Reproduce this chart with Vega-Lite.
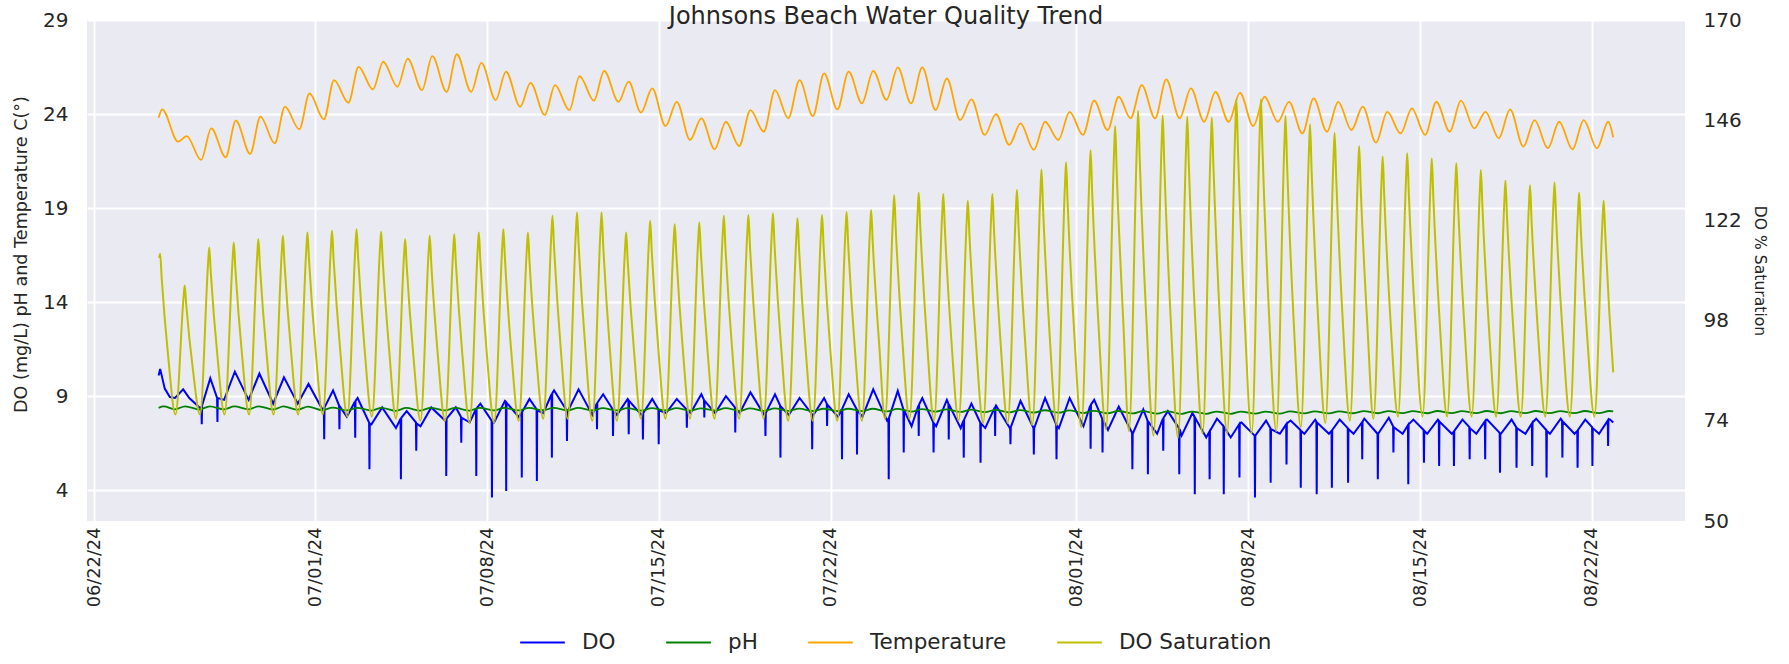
{
"$schema": "https://vega.github.io/schema/vega-lite/v6.json",
"width": 1598,
"height": 501,
"autosize": {"type": "none"},
"padding": {"left": 87, "top": 20, "right": 104, "bottom": 143},
"background": "white",
"title": {"text": "Johnsons Beach Water Quality Trend", "fontSize": 24, "font": "DejaVu Sans", "fontWeight": "normal", "color": "#262626", "anchor": "middle", "frame": "group", "offset": -19},
"config": {
"view": {"fill": "#EAEAF2", "stroke": null},
"font": "DejaVu Sans",
"axis": {"domain": false, "ticks": false, "gridColor": "white", "gridWidth": 1.8, "gridOpacity": 1, "labelFont": "DejaVu Sans", "labelFontSize": 20, "labelColor": "#262626", "titleFont": "DejaVu Sans", "titleFontWeight": "normal", "titleColor": "#262626", "titleFontSize": 17.6, "labelOverlap": false},
"legend": {"orient": "none", "legendX": 432, "legendY": 599, "direction": "horizontal", "title": null, "symbolType": "stroke", "symbolStrokeWidth": 2, "symbolSize": 2000, "labelFont": "DejaVu Sans", "labelFontSize": 21.5, "labelColor": "#262626", "labelOffset": 16, "columnPadding": 46, "padding": 0}
},
"datasets": {
"do": [
{"t":"2024-06-24T15:00","v":10.1},{"t":"2024-06-24T16:30","v":10.45},{"t":"2024-06-24T21:00","v":9.4},
{"t":"2024-06-25T02:00","v":8.95},{"t":"2024-06-25T07:00","v":8.9},{"t":"2024-06-25T15:00","v":9.36},{"t":"2024-06-25T21:00","v":8.9},
{"t":"2024-06-26T07:00","v":8.4},{"t":"2024-06-26T08:50","v":8.4},{"t":"2024-06-26T09:10","v":7.5},{"t":"2024-06-26T09:30","v":8.5},{"t":"2024-06-26T17:30","v":9.95},
{"t":"2024-06-27T00:10","v":8.9},{"t":"2024-06-27T00:30","v":7.62},{"t":"2024-06-27T00:50","v":8.9},{"t":"2024-06-27T07:00","v":8.8},{"t":"2024-06-27T17:30","v":10.3},
{"t":"2024-06-28T07:00","v":8.8},{"t":"2024-06-28T17:30","v":10.2},
{"t":"2024-06-29T07:00","v":8.6},{"t":"2024-06-29T17:30","v":10.0},
{"t":"2024-06-30T07:00","v":8.6},{"t":"2024-06-30T17:30","v":9.65},
{"t":"2024-07-01T07:00","v":8.3},{"t":"2024-07-01T08:30","v":8.35},{"t":"2024-07-01T08:50","v":6.71},{"t":"2024-07-01T09:10","v":8.4},{"t":"2024-07-01T17:30","v":9.3},{"t":"2024-07-01T23:25","v":8.5},{"t":"2024-07-01T23:45","v":7.24},
{"t":"2024-07-02T00:05","v":8.45},{"t":"2024-07-02T07:00","v":7.9},{"t":"2024-07-02T14:50","v":8.7},{"t":"2024-07-02T15:10","v":6.79},{"t":"2024-07-02T15:30","v":8.75},{"t":"2024-07-02T17:30","v":8.9},
{"t":"2024-07-03T04:45","v":7.6},{"t":"2024-07-03T05:05","v":5.11},{"t":"2024-07-03T05:25","v":7.55},{"t":"2024-07-03T07:00","v":7.5},{"t":"2024-07-03T17:30","v":8.4},
{"t":"2024-07-04T07:00","v":7.3},{"t":"2024-07-04T11:30","v":7.8},{"t":"2024-07-04T11:50","v":4.58},{"t":"2024-07-04T12:10","v":7.85},{"t":"2024-07-04T17:30","v":8.2},
{"t":"2024-07-05T02:30","v":7.6},{"t":"2024-07-05T02:50","v":6.09},{"t":"2024-07-05T03:10","v":7.55},{"t":"2024-07-05T07:00","v":7.4},{"t":"2024-07-05T17:30","v":8.4},
{"t":"2024-07-06T07:00","v":7.7},{"t":"2024-07-06T07:50","v":7.75},{"t":"2024-07-06T08:10","v":4.75},{"t":"2024-07-06T08:30","v":7.8},{"t":"2024-07-06T17:30","v":8.4},{"t":"2024-07-06T22:30","v":7.9},{"t":"2024-07-06T22:50","v":6.52},{"t":"2024-07-06T23:10","v":7.85},
{"t":"2024-07-07T07:00","v":7.6},{"t":"2024-07-07T13:10","v":8.3},{"t":"2024-07-07T13:30","v":4.75},{"t":"2024-07-07T13:50","v":8.35},{"t":"2024-07-07T17:30","v":8.6},
{"t":"2024-07-08T04:30","v":7.7},{"t":"2024-07-08T04:50","v":3.61},{"t":"2024-07-08T05:10","v":7.65},{"t":"2024-07-08T07:00","v":7.6},{"t":"2024-07-08T17:30","v":8.75},{"t":"2024-07-08T18:25","v":8.7},{"t":"2024-07-08T18:45","v":3.96},{"t":"2024-07-08T19:05","v":8.65},
{"t":"2024-07-09T07:00","v":7.9},{"t":"2024-07-09T09:40","v":8.1},{"t":"2024-07-09T10:00","v":4.67},{"t":"2024-07-09T10:20","v":8.15},{"t":"2024-07-09T17:30","v":8.85},
{"t":"2024-07-10T00:25","v":8.3},{"t":"2024-07-10T00:45","v":4.49},{"t":"2024-07-10T01:05","v":8.25},{"t":"2024-07-10T07:00","v":8.1},{"t":"2024-07-10T15:05","v":9.1},{"t":"2024-07-10T15:25","v":5.73},{"t":"2024-07-10T15:45","v":9.15},{"t":"2024-07-10T17:30","v":9.3},
{"t":"2024-07-11T05:50","v":8.25},{"t":"2024-07-11T06:10","v":6.61},{"t":"2024-07-11T06:30","v":8.2},{"t":"2024-07-11T07:00","v":8.2},{"t":"2024-07-11T17:30","v":9.36},
{"t":"2024-07-12T07:00","v":8.0},{"t":"2024-07-12T11:10","v":8.6},{"t":"2024-07-12T11:30","v":7.24},{"t":"2024-07-12T11:50","v":8.65},{"t":"2024-07-12T17:30","v":9.1},
{"t":"2024-07-13T02:50","v":8.3},{"t":"2024-07-13T03:10","v":6.88},{"t":"2024-07-13T03:30","v":8.25},{"t":"2024-07-13T07:00","v":8.0},{"t":"2024-07-13T17:30","v":8.85},{"t":"2024-07-13T18:10","v":8.8},{"t":"2024-07-13T18:30","v":6.97},{"t":"2024-07-13T18:50","v":8.75},
{"t":"2024-07-14T07:00","v":8.0},{"t":"2024-07-14T08:05","v":8.05},{"t":"2024-07-14T08:25","v":6.7},{"t":"2024-07-14T08:45","v":8.1},{"t":"2024-07-14T17:30","v":8.85},{"t":"2024-07-14T23:30","v":8.3},{"t":"2024-07-14T23:50","v":6.44},
{"t":"2024-07-15T00:10","v":8.25},{"t":"2024-07-15T07:00","v":8.1},{"t":"2024-07-15T17:30","v":8.85},
{"t":"2024-07-16T03:00","v":8.3},{"t":"2024-07-16T03:20","v":7.32},{"t":"2024-07-16T03:40","v":8.25},{"t":"2024-07-16T07:00","v":8.1},{"t":"2024-07-16T17:30","v":9.1},{"t":"2024-07-16T20:05","v":8.8},{"t":"2024-07-16T20:25","v":7.86},{"t":"2024-07-16T20:45","v":8.75},
{"t":"2024-07-17T07:00","v":8.1},{"t":"2024-07-17T17:30","v":9.0},
{"t":"2024-07-18T02:20","v":8.4},{"t":"2024-07-18T02:40","v":7.06},{"t":"2024-07-18T03:00","v":8.35},{"t":"2024-07-18T07:00","v":8.1},{"t":"2024-07-18T17:30","v":9.2},
{"t":"2024-07-19T07:00","v":8.0},{"t":"2024-07-19T07:50","v":8.05},{"t":"2024-07-19T08:10","v":6.88},{"t":"2024-07-19T08:30","v":8.1},{"t":"2024-07-19T17:30","v":9.1},{"t":"2024-07-19T22:30","v":8.5},{"t":"2024-07-19T22:50","v":5.73},{"t":"2024-07-19T23:10","v":8.45},
{"t":"2024-07-20T07:00","v":8.0},{"t":"2024-07-20T17:30","v":8.9},
{"t":"2024-07-21T05:30","v":8.05},{"t":"2024-07-21T05:50","v":6.17},{"t":"2024-07-21T06:10","v":8.0},{"t":"2024-07-21T07:00","v":8.0},{"t":"2024-07-21T17:30","v":8.9},{"t":"2024-07-21T20:05","v":8.6},{"t":"2024-07-21T20:25","v":7.41},{"t":"2024-07-21T20:45","v":8.55},
{"t":"2024-07-22T07:00","v":7.9},{"t":"2024-07-22T10:40","v":8.3},{"t":"2024-07-22T11:00","v":5.64},{"t":"2024-07-22T11:20","v":8.35},{"t":"2024-07-22T17:30","v":9.1},
{"t":"2024-07-23T01:20","v":8.3},{"t":"2024-07-23T01:40","v":5.9},{"t":"2024-07-23T02:00","v":8.25},{"t":"2024-07-23T07:00","v":7.9},{"t":"2024-07-23T17:30","v":9.36},
{"t":"2024-07-24T07:00","v":7.7},{"t":"2024-07-24T08:20","v":7.8},{"t":"2024-07-24T08:40","v":4.58},{"t":"2024-07-24T09:00","v":7.85},{"t":"2024-07-24T17:30","v":9.28},{"t":"2024-07-24T23:00","v":8.3},{"t":"2024-07-24T23:20","v":6.0},{"t":"2024-07-24T23:40","v":8.25},
{"t":"2024-07-25T07:00","v":7.4},{"t":"2024-07-25T13:40","v":8.5},{"t":"2024-07-25T14:00","v":6.88},{"t":"2024-07-25T14:20","v":8.55},{"t":"2024-07-25T17:30","v":8.9},
{"t":"2024-07-26T04:10","v":7.6},{"t":"2024-07-26T04:30","v":6.0},{"t":"2024-07-26T04:50","v":7.55},{"t":"2024-07-26T07:00","v":7.4},{"t":"2024-07-26T17:30","v":8.8},{"t":"2024-07-26T19:00","v":8.6},{"t":"2024-07-26T19:20","v":6.7},{"t":"2024-07-26T19:40","v":8.55},
{"t":"2024-07-27T07:00","v":7.3},{"t":"2024-07-27T09:40","v":7.7},{"t":"2024-07-27T10:00","v":5.73},{"t":"2024-07-27T10:20","v":7.75},{"t":"2024-07-27T17:30","v":8.6},
{"t":"2024-07-28T02:05","v":7.6},{"t":"2024-07-28T02:25","v":5.46},{"t":"2024-07-28T02:45","v":7.55},{"t":"2024-07-28T07:00","v":7.3},{"t":"2024-07-28T16:20","v":8.4},{"t":"2024-07-28T16:40","v":6.88},{"t":"2024-07-28T17:00","v":8.45},{"t":"2024-07-28T17:30","v":8.5},
{"t":"2024-07-29T07:00","v":7.3},{"t":"2024-07-29T07:20","v":7.3},{"t":"2024-07-29T07:40","v":6.44},{"t":"2024-07-29T08:00","v":7.35},{"t":"2024-07-29T17:30","v":8.75},
{"t":"2024-07-30T06:10","v":7.3},{"t":"2024-07-30T06:30","v":5.9},{"t":"2024-07-30T06:50","v":7.3},{"t":"2024-07-30T17:30","v":8.9},
{"t":"2024-07-31T04:20","v":7.5},{"t":"2024-07-31T04:40","v":5.64},{"t":"2024-07-31T05:00","v":7.45},{"t":"2024-07-31T07:00","v":7.3},{"t":"2024-07-31T17:30","v":8.9},
{"t":"2024-08-01T07:00","v":7.4},{"t":"2024-08-01T13:40","v":8.5},{"t":"2024-08-01T14:00","v":6.2},{"t":"2024-08-01T14:20","v":8.55},{"t":"2024-08-01T17:30","v":8.8},
{"t":"2024-08-02T01:20","v":7.8},{"t":"2024-08-02T01:40","v":6.0},{"t":"2024-08-02T02:00","v":7.75},{"t":"2024-08-02T07:00","v":7.2},{"t":"2024-08-02T17:30","v":8.45},
{"t":"2024-08-03T06:30","v":7.05},{"t":"2024-08-03T06:50","v":5.11},{"t":"2024-08-03T07:10","v":7.0},{"t":"2024-08-03T17:30","v":8.3},{"t":"2024-08-03T21:40","v":7.7},{"t":"2024-08-03T22:00","v":4.84},{"t":"2024-08-03T22:20","v":7.65},
{"t":"2024-08-04T07:00","v":7.0},{"t":"2024-08-04T12:40","v":7.8},{"t":"2024-08-04T13:00","v":6.1},{"t":"2024-08-04T13:20","v":7.85},{"t":"2024-08-04T17:30","v":8.2},
{"t":"2024-08-05T04:20","v":7.3},{"t":"2024-08-05T04:40","v":4.84},{"t":"2024-08-05T05:00","v":7.25},{"t":"2024-08-05T07:00","v":6.9},{"t":"2024-08-05T17:30","v":8.1},{"t":"2024-08-05T19:30","v":7.9},{"t":"2024-08-05T19:50","v":3.78},{"t":"2024-08-05T20:10","v":7.85},
{"t":"2024-08-06T07:00","v":6.8},{"t":"2024-08-06T10:00","v":7.1},{"t":"2024-08-06T10:20","v":4.58},{"t":"2024-08-06T10:40","v":7.15},{"t":"2024-08-06T17:30","v":7.8},{"t":"2024-08-06T23:50","v":7.4},
{"t":"2024-08-07T00:10","v":3.78},{"t":"2024-08-07T00:30","v":7.35},{"t":"2024-08-07T07:00","v":6.8},{"t":"2024-08-07T15:10","v":7.5},{"t":"2024-08-07T15:30","v":4.67},{"t":"2024-08-07T15:50","v":7.55},{"t":"2024-08-07T17:30","v":7.6},
{"t":"2024-08-08T06:20","v":6.9},{"t":"2024-08-08T06:40","v":3.61},{"t":"2024-08-08T07:00","v":6.9},{"t":"2024-08-08T17:30","v":7.7},{"t":"2024-08-08T21:40","v":7.3},{"t":"2024-08-08T22:00","v":4.4},{"t":"2024-08-08T22:20","v":7.25},
{"t":"2024-08-09T07:00","v":7.0},{"t":"2024-08-09T13:10","v":7.5},{"t":"2024-08-09T13:30","v":5.37},{"t":"2024-08-09T13:50","v":7.55},{"t":"2024-08-09T17:30","v":7.7},
{"t":"2024-08-10T03:05","v":7.2},{"t":"2024-08-10T03:25","v":4.13},{"t":"2024-08-10T03:45","v":7.15},{"t":"2024-08-10T07:00","v":7.0},{"t":"2024-08-10T17:30","v":7.75},{"t":"2024-08-10T18:40","v":7.65},{"t":"2024-08-10T19:00","v":3.78},{"t":"2024-08-10T19:20","v":7.6},
{"t":"2024-08-11T07:00","v":7.0},{"t":"2024-08-11T09:30","v":7.15},{"t":"2024-08-11T09:50","v":4.13},{"t":"2024-08-11T10:10","v":7.2},{"t":"2024-08-11T17:30","v":7.75},
{"t":"2024-08-12T01:20","v":7.3},{"t":"2024-08-12T01:40","v":4.4},{"t":"2024-08-12T02:00","v":7.25},{"t":"2024-08-12T07:00","v":7.0},{"t":"2024-08-12T15:10","v":7.6},{"t":"2024-08-12T15:30","v":5.64},{"t":"2024-08-12T15:50","v":7.65},{"t":"2024-08-12T17:30","v":7.8},
{"t":"2024-08-13T06:25","v":7.0},{"t":"2024-08-13T06:45","v":4.58},{"t":"2024-08-13T07:05","v":7.0},{"t":"2024-08-13T17:30","v":7.85},{"t":"2024-08-13T21:40","v":7.4},{"t":"2024-08-13T22:00","v":6.0},{"t":"2024-08-13T22:20","v":7.35},
{"t":"2024-08-14T07:00","v":7.0},{"t":"2024-08-14T12:10","v":7.45},{"t":"2024-08-14T12:30","v":4.31},{"t":"2024-08-14T12:50","v":7.5},{"t":"2024-08-14T17:30","v":7.75},
{"t":"2024-08-15T03:30","v":7.2},{"t":"2024-08-15T03:50","v":5.46},{"t":"2024-08-15T04:10","v":7.15},{"t":"2024-08-15T07:00","v":7.0},{"t":"2024-08-15T17:30","v":7.75},{"t":"2024-08-15T18:20","v":7.7},{"t":"2024-08-15T18:40","v":5.28},{"t":"2024-08-15T19:00","v":7.65},
{"t":"2024-08-16T07:00","v":7.0},{"t":"2024-08-16T08:50","v":7.1},{"t":"2024-08-16T09:10","v":5.28},{"t":"2024-08-16T09:30","v":7.15},{"t":"2024-08-16T17:30","v":7.75},
{"t":"2024-08-17T00:10","v":7.35},{"t":"2024-08-17T00:30","v":5.64},{"t":"2024-08-17T00:50","v":7.3},{"t":"2024-08-17T07:00","v":7.0},{"t":"2024-08-17T15:20","v":7.65},{"t":"2024-08-17T15:40","v":5.64},{"t":"2024-08-17T16:00","v":7.7},{"t":"2024-08-17T17:30","v":7.75},
{"t":"2024-08-18T05:50","v":7.05},{"t":"2024-08-18T06:10","v":4.93},{"t":"2024-08-18T06:30","v":7.0},{"t":"2024-08-18T07:00","v":7.0},{"t":"2024-08-18T17:30","v":7.75},{"t":"2024-08-18T22:00","v":7.35},{"t":"2024-08-18T22:20","v":5.19},{"t":"2024-08-18T22:40","v":7.3},
{"t":"2024-08-19T07:00","v":7.0},{"t":"2024-08-19T13:20","v":7.55},{"t":"2024-08-19T13:40","v":5.28},{"t":"2024-08-19T14:00","v":7.6},{"t":"2024-08-19T17:30","v":7.8},
{"t":"2024-08-20T03:20","v":7.2},{"t":"2024-08-20T03:40","v":4.67},{"t":"2024-08-20T04:00","v":7.15},{"t":"2024-08-20T07:00","v":7.0},{"t":"2024-08-20T17:30","v":7.8},{"t":"2024-08-20T18:50","v":7.7},{"t":"2024-08-20T19:10","v":5.73},{"t":"2024-08-20T19:30","v":7.65},
{"t":"2024-08-21T07:00","v":7.0},{"t":"2024-08-21T09:40","v":7.15},{"t":"2024-08-21T10:00","v":5.19},{"t":"2024-08-21T10:20","v":7.2},{"t":"2024-08-21T17:30","v":7.75},
{"t":"2024-08-22T00:10","v":7.35},{"t":"2024-08-22T00:30","v":5.28},{"t":"2024-08-22T00:50","v":7.3},{"t":"2024-08-22T07:00","v":7.0},{"t":"2024-08-22T15:30","v":7.7},{"t":"2024-08-22T15:50","v":6.35},{"t":"2024-08-22T16:10","v":7.75},{"t":"2024-08-22T17:30","v":7.77},{"t":"2024-08-22T20:50","v":7.6}
],
"ph": [
{"t":"2024-06-24T15:00","v":8.38},{"t":"2024-06-24T20:00","v":8.45},
{"t":"2024-06-25T07:00","v":8.30},{"t":"2024-06-25T17:00","v":8.46},
{"t":"2024-06-26T07:00","v":8.29},{"t":"2024-06-26T17:00","v":8.46},
{"t":"2024-06-27T07:00","v":8.30},{"t":"2024-06-27T17:00","v":8.45},
{"t":"2024-06-28T07:00","v":8.30},{"t":"2024-06-28T17:00","v":8.46},
{"t":"2024-06-29T07:00","v":8.29},{"t":"2024-06-29T17:00","v":8.45},
{"t":"2024-06-30T07:00","v":8.28},{"t":"2024-06-30T17:00","v":8.44},
{"t":"2024-07-01T07:00","v":8.25},{"t":"2024-07-01T17:00","v":8.39},
{"t":"2024-07-02T07:00","v":8.24},{"t":"2024-07-02T17:00","v":8.38},
{"t":"2024-07-03T07:00","v":8.23},{"t":"2024-07-03T17:00","v":8.38},
{"t":"2024-07-04T07:00","v":8.22},{"t":"2024-07-04T17:00","v":8.37},
{"t":"2024-07-05T07:00","v":8.23},{"t":"2024-07-05T17:00","v":8.38},
{"t":"2024-07-06T07:00","v":8.24},{"t":"2024-07-06T17:00","v":8.37},
{"t":"2024-07-07T07:00","v":8.23},{"t":"2024-07-07T17:00","v":8.38},
{"t":"2024-07-08T07:00","v":8.24},{"t":"2024-07-08T17:00","v":8.37},
{"t":"2024-07-09T07:00","v":8.24},{"t":"2024-07-09T17:00","v":8.38},
{"t":"2024-07-10T07:00","v":8.25},{"t":"2024-07-10T17:00","v":8.38},
{"t":"2024-07-11T07:00","v":8.25},{"t":"2024-07-11T17:00","v":8.37},
{"t":"2024-07-12T07:00","v":8.24},{"t":"2024-07-12T17:00","v":8.36},
{"t":"2024-07-13T07:00","v":8.24},{"t":"2024-07-13T17:00","v":8.36},
{"t":"2024-07-14T07:00","v":8.23},{"t":"2024-07-14T17:00","v":8.36},
{"t":"2024-07-15T07:00","v":8.24},{"t":"2024-07-15T17:00","v":8.36},
{"t":"2024-07-16T07:00","v":8.23},{"t":"2024-07-16T17:00","v":8.35},
{"t":"2024-07-17T07:00","v":8.23},{"t":"2024-07-17T17:00","v":8.36},
{"t":"2024-07-18T07:00","v":8.22},{"t":"2024-07-18T17:00","v":8.35},
{"t":"2024-07-19T07:00","v":8.22},{"t":"2024-07-19T17:00","v":8.35},
{"t":"2024-07-20T07:00","v":8.22},{"t":"2024-07-20T17:00","v":8.34},
{"t":"2024-07-21T07:00","v":8.21},{"t":"2024-07-21T17:00","v":8.33},
{"t":"2024-07-22T07:00","v":8.20},{"t":"2024-07-22T17:00","v":8.33},
{"t":"2024-07-23T07:00","v":8.20},{"t":"2024-07-23T17:00","v":8.33},
{"t":"2024-07-24T07:00","v":8.19},{"t":"2024-07-24T17:00","v":8.32},
{"t":"2024-07-25T07:00","v":8.18},{"t":"2024-07-25T17:00","v":8.31},
{"t":"2024-07-26T07:00","v":8.18},{"t":"2024-07-26T17:00","v":8.30},
{"t":"2024-07-27T07:00","v":8.16},{"t":"2024-07-27T17:00","v":8.28},
{"t":"2024-07-28T07:00","v":8.15},{"t":"2024-07-28T17:00","v":8.27},
{"t":"2024-07-29T07:00","v":8.14},{"t":"2024-07-29T17:00","v":8.26},
{"t":"2024-07-30T07:00","v":8.13},{"t":"2024-07-30T17:00","v":8.25},
{"t":"2024-07-31T07:00","v":8.12},{"t":"2024-07-31T17:00","v":8.24},
{"t":"2024-08-01T07:00","v":8.10},{"t":"2024-08-01T17:00","v":8.22},
{"t":"2024-08-02T07:00","v":8.09},{"t":"2024-08-02T17:00","v":8.21},
{"t":"2024-08-03T07:00","v":8.08},{"t":"2024-08-03T17:00","v":8.20},
{"t":"2024-08-04T07:00","v":8.07},{"t":"2024-08-04T17:00","v":8.19},
{"t":"2024-08-05T07:00","v":8.06},{"t":"2024-08-05T17:00","v":8.18},
{"t":"2024-08-06T07:00","v":8.06},{"t":"2024-08-06T17:00","v":8.18},
{"t":"2024-08-07T07:00","v":8.06},{"t":"2024-08-07T17:00","v":8.18},
{"t":"2024-08-08T07:00","v":8.07},{"t":"2024-08-08T17:00","v":8.18},
{"t":"2024-08-09T07:00","v":8.07},{"t":"2024-08-09T17:00","v":8.19},
{"t":"2024-08-10T07:00","v":8.08},{"t":"2024-08-10T17:00","v":8.19},
{"t":"2024-08-11T07:00","v":8.08},{"t":"2024-08-11T17:00","v":8.19},
{"t":"2024-08-12T07:00","v":8.09},{"t":"2024-08-12T17:00","v":8.20},
{"t":"2024-08-13T07:00","v":8.09},{"t":"2024-08-13T17:00","v":8.20},
{"t":"2024-08-14T07:00","v":8.10},{"t":"2024-08-14T17:00","v":8.20},
{"t":"2024-08-15T07:00","v":8.09},{"t":"2024-08-15T17:00","v":8.21},
{"t":"2024-08-16T07:00","v":8.10},{"t":"2024-08-16T17:00","v":8.20},
{"t":"2024-08-17T07:00","v":8.10},{"t":"2024-08-17T17:00","v":8.21},
{"t":"2024-08-18T07:00","v":8.09},{"t":"2024-08-18T17:00","v":8.20},
{"t":"2024-08-19T07:00","v":8.10},{"t":"2024-08-19T17:00","v":8.21},
{"t":"2024-08-20T07:00","v":8.10},{"t":"2024-08-20T17:00","v":8.20},
{"t":"2024-08-21T07:00","v":8.10},{"t":"2024-08-21T17:00","v":8.21},
{"t":"2024-08-22T07:00","v":8.10},{"t":"2024-08-22T17:00","v":8.21},{"t":"2024-08-22T20:50","v":8.19}
],
"temp": [
{"t":"2024-06-24T15:00","v":23.8},{"t":"2024-06-24T18:30","v":24.25},
{"t":"2024-06-25T10:00","v":22.53},{"t":"2024-06-25T18:30","v":22.83},
{"t":"2024-06-26T08:30","v":21.56},{"t":"2024-06-26T18:30","v":23.24},
{"t":"2024-06-27T08:30","v":21.7},{"t":"2024-06-27T18:30","v":23.65},
{"t":"2024-06-28T08:30","v":21.88},{"t":"2024-06-28T18:30","v":23.86},
{"t":"2024-06-29T08:30","v":22.44},{"t":"2024-06-29T18:30","v":24.39},
{"t":"2024-06-30T08:30","v":23.19},{"t":"2024-06-30T18:30","v":25.1},
{"t":"2024-07-01T08:30","v":23.72},{"t":"2024-07-01T18:30","v":25.8},
{"t":"2024-07-02T08:30","v":24.6},{"t":"2024-07-02T18:30","v":26.51},
{"t":"2024-07-03T08:30","v":25.31},{"t":"2024-07-03T18:30","v":26.78},
{"t":"2024-07-04T08:30","v":25.45},{"t":"2024-07-04T18:30","v":26.95},
{"t":"2024-07-05T08:30","v":25.27},{"t":"2024-07-05T18:30","v":27.08},
{"t":"2024-07-06T08:30","v":25.18},{"t":"2024-07-06T18:30","v":27.18},
{"t":"2024-07-07T08:30","v":25.18},{"t":"2024-07-07T18:30","v":26.72},
{"t":"2024-07-08T08:30","v":24.74},{"t":"2024-07-08T18:30","v":26.25},
{"t":"2024-07-09T08:30","v":24.39},{"t":"2024-07-09T18:30","v":25.66},
{"t":"2024-07-10T08:30","v":23.95},{"t":"2024-07-10T18:30","v":25.54},
{"t":"2024-07-11T08:30","v":24.21},{"t":"2024-07-11T18:30","v":26.02},
{"t":"2024-07-12T08:30","v":24.71},{"t":"2024-07-12T18:30","v":26.3},
{"t":"2024-07-13T08:30","v":24.65},{"t":"2024-07-13T18:30","v":25.72},
{"t":"2024-07-14T06:30","v":24.08},{"t":"2024-07-14T17:30","v":25.36},
{"t":"2024-07-15T06:30","v":23.36},{"t":"2024-07-15T17:30","v":24.65},
{"t":"2024-07-16T06:30","v":22.62},{"t":"2024-07-16T17:30","v":23.77},
{"t":"2024-07-17T06:30","v":22.12},{"t":"2024-07-17T17:30","v":23.59},
{"t":"2024-07-18T06:30","v":22.3},{"t":"2024-07-18T17:30","v":24.21},
{"t":"2024-07-19T06:30","v":23.06},{"t":"2024-07-19T17:30","v":25.27},
{"t":"2024-07-20T06:30","v":23.77},{"t":"2024-07-20T17:30","v":25.8},
{"t":"2024-07-21T06:30","v":23.89},{"t":"2024-07-21T17:30","v":26.16},
{"t":"2024-07-22T06:30","v":24.25},{"t":"2024-07-22T17:30","v":26.25},
{"t":"2024-07-23T06:30","v":24.57},{"t":"2024-07-23T17:30","v":26.3},
{"t":"2024-07-24T06:30","v":24.75},{"t":"2024-07-24T17:30","v":26.48},
{"t":"2024-07-25T06:30","v":24.57},{"t":"2024-07-25T17:30","v":26.48},
{"t":"2024-07-26T06:30","v":24.21},{"t":"2024-07-26T17:30","v":25.89},
{"t":"2024-07-27T06:30","v":23.68},{"t":"2024-07-27T17:30","v":24.78},
{"t":"2024-07-28T06:30","v":22.89},{"t":"2024-07-28T17:30","v":24.0},
{"t":"2024-07-29T06:30","v":22.36},{"t":"2024-07-29T17:30","v":23.5},
{"t":"2024-07-30T06:30","v":22.09},{"t":"2024-07-30T17:30","v":23.59},
{"t":"2024-07-31T06:30","v":22.62},{"t":"2024-07-31T17:30","v":24.12},
{"t":"2024-08-01T06:30","v":22.89},{"t":"2024-08-01T17:30","v":24.71},
{"t":"2024-08-02T06:30","v":23.15},{"t":"2024-08-02T17:30","v":24.92},
{"t":"2024-08-03T05:00","v":23.77},{"t":"2024-08-03T16:00","v":25.54},
{"t":"2024-08-04T05:00","v":23.77},{"t":"2024-08-04T16:00","v":25.84},
{"t":"2024-08-05T05:00","v":23.77},{"t":"2024-08-05T16:00","v":25.36},
{"t":"2024-08-06T05:00","v":23.59},{"t":"2024-08-06T16:00","v":25.18},
{"t":"2024-08-07T05:00","v":23.59},{"t":"2024-08-07T16:00","v":25.13},
{"t":"2024-08-08T05:00","v":23.36},{"t":"2024-08-08T16:00","v":24.92},
{"t":"2024-08-09T05:00","v":23.59},{"t":"2024-08-09T16:00","v":24.65},
{"t":"2024-08-10T05:00","v":22.97},{"t":"2024-08-10T16:00","v":24.83},
{"t":"2024-08-11T05:00","v":23.06},{"t":"2024-08-11T16:00","v":24.65},
{"t":"2024-08-12T05:00","v":23.15},{"t":"2024-08-12T16:00","v":24.39},
{"t":"2024-08-13T05:00","v":22.48},{"t":"2024-08-13T16:00","v":24.12},
{"t":"2024-08-14T05:00","v":22.97},{"t":"2024-08-14T16:00","v":24.3},
{"t":"2024-08-15T05:00","v":22.89},{"t":"2024-08-15T16:00","v":24.65},
{"t":"2024-08-16T05:00","v":23.06},{"t":"2024-08-16T16:00","v":24.71},
{"t":"2024-08-17T05:00","v":23.24},{"t":"2024-08-17T16:00","v":24.12},
{"t":"2024-08-18T05:00","v":22.71},{"t":"2024-08-18T16:00","v":24.25},
{"t":"2024-08-19T05:00","v":22.27},{"t":"2024-08-19T16:00","v":23.68},
{"t":"2024-08-20T05:00","v":22.18},{"t":"2024-08-20T16:00","v":23.59},
{"t":"2024-08-21T05:00","v":22.12},{"t":"2024-08-21T16:00","v":23.68},
{"t":"2024-08-22T05:00","v":22.18},{"t":"2024-08-22T16:00","v":23.59},{"t":"2024-08-22T20:50","v":22.76}
],
"sat": [
{"t":"2024-06-24T15:30","v":113.0},{"t":"2024-06-24T16:30","v":114.0},{"t":"2024-06-24T18:00","v":108.2},{"t":"2024-06-25T00:30","v":89.0},
{"t":"2024-06-25T07:30","v":75.5},{"t":"2024-06-25T15:30","v":103.9},{"t":"2024-06-25T16:30","v":106.4},{"t":"2024-06-25T18:00","v":101.8},{"t":"2024-06-26T00:30","v":86.3},
{"t":"2024-06-26T07:30","v":75.5},{"t":"2024-06-26T15:30","v":112.3},{"t":"2024-06-26T16:30","v":115.5},{"t":"2024-06-26T18:00","v":109.5},{"t":"2024-06-27T00:30","v":89.5},
{"t":"2024-06-27T07:30","v":75.5},{"t":"2024-06-27T15:30","v":113.4},{"t":"2024-06-27T16:30","v":116.7},{"t":"2024-06-27T18:00","v":110.5},{"t":"2024-06-28T00:30","v":89.9},
{"t":"2024-06-28T07:30","v":75.5},{"t":"2024-06-28T15:30","v":114.1},{"t":"2024-06-28T16:30","v":117.5},{"t":"2024-06-28T18:00","v":111.2},{"t":"2024-06-29T00:30","v":90.2},
{"t":"2024-06-29T07:30","v":75.5},{"t":"2024-06-29T15:30","v":114.9},{"t":"2024-06-29T16:30","v":118.3},{"t":"2024-06-29T18:00","v":111.9},{"t":"2024-06-30T00:30","v":90.5},
{"t":"2024-06-30T07:30","v":75.5},{"t":"2024-06-30T15:30","v":115.6},{"t":"2024-06-30T16:30","v":119.1},{"t":"2024-06-30T18:00","v":112.6},{"t":"2024-07-01T00:30","v":90.8},
{"t":"2024-07-01T07:30","v":75.5},{"t":"2024-07-01T15:30","v":116.0},{"t":"2024-07-01T16:30","v":119.5},{"t":"2024-07-01T18:00","v":112.9},{"t":"2024-07-02T00:30","v":90.9},
{"t":"2024-07-02T07:30","v":75.0},{"t":"2024-07-02T15:30","v":116.3},{"t":"2024-07-02T16:30","v":119.9},{"t":"2024-07-02T18:00","v":113.2},{"t":"2024-07-03T00:30","v":90.7},
{"t":"2024-07-03T07:30","v":75.0},{"t":"2024-07-03T15:30","v":115.8},{"t":"2024-07-03T16:30","v":119.3},{"t":"2024-07-03T18:00","v":112.7},{"t":"2024-07-04T00:30","v":90.5},
{"t":"2024-07-04T07:00","v":74.5},{"t":"2024-07-04T15:00","v":114.1},{"t":"2024-07-04T16:00","v":117.5},{"t":"2024-07-04T17:30","v":111.1},{"t":"2024-07-05T00:00","v":89.6},
{"t":"2024-07-05T07:00","v":74.0},{"t":"2024-07-05T15:00","v":114.8},{"t":"2024-07-05T16:00","v":118.3},{"t":"2024-07-05T17:30","v":111.7},{"t":"2024-07-06T00:00","v":89.5},
{"t":"2024-07-06T07:00","v":74.0},{"t":"2024-07-06T15:00","v":115.1},{"t":"2024-07-06T16:00","v":118.7},{"t":"2024-07-06T17:30","v":112.0},{"t":"2024-07-07T00:00","v":89.6},
{"t":"2024-07-07T07:00","v":73.5},{"t":"2024-07-07T15:00","v":115.5},{"t":"2024-07-07T16:00","v":119.1},{"t":"2024-07-07T17:30","v":112.3},{"t":"2024-07-08T00:00","v":89.5},
{"t":"2024-07-08T07:00","v":73.5},{"t":"2024-07-08T15:00","v":116.2},{"t":"2024-07-08T16:00","v":119.9},{"t":"2024-07-08T17:30","v":112.9},{"t":"2024-07-09T00:00","v":89.7},
{"t":"2024-07-09T07:00","v":74.0},{"t":"2024-07-09T15:00","v":115.5},{"t":"2024-07-09T16:00","v":119.1},{"t":"2024-07-09T17:30","v":112.3},{"t":"2024-07-10T00:00","v":89.8},
{"t":"2024-07-10T07:00","v":74.5},{"t":"2024-07-10T15:00","v":119.2},{"t":"2024-07-10T16:00","v":123.1},{"t":"2024-07-10T17:30","v":115.8},{"t":"2024-07-11T00:00","v":91.5},
{"t":"2024-07-11T07:00","v":74.5},{"t":"2024-07-11T15:00","v":119.9},{"t":"2024-07-11T16:00","v":123.9},{"t":"2024-07-11T17:30","v":116.5},{"t":"2024-07-12T00:00","v":91.8},
{"t":"2024-07-12T07:00","v":74.0},{"t":"2024-07-12T15:00","v":119.9},{"t":"2024-07-12T16:00","v":123.9},{"t":"2024-07-12T17:30","v":116.4},{"t":"2024-07-13T00:00","v":91.5},
{"t":"2024-07-13T07:00","v":74.0},{"t":"2024-07-13T15:00","v":115.5},{"t":"2024-07-13T16:00","v":119.1},{"t":"2024-07-13T17:30","v":112.3},{"t":"2024-07-14T00:00","v":89.8},
{"t":"2024-07-14T06:30","v":74.5},{"t":"2024-07-14T14:30","v":118.1},{"t":"2024-07-14T15:30","v":121.9},{"t":"2024-07-14T17:00","v":114.8},{"t":"2024-07-14T23:30","v":91.1},
{"t":"2024-07-15T06:30","v":74.5},{"t":"2024-07-15T14:30","v":117.4},{"t":"2024-07-15T15:30","v":121.1},{"t":"2024-07-15T17:00","v":114.1},{"t":"2024-07-15T23:30","v":90.8},
{"t":"2024-07-16T06:30","v":74.5},{"t":"2024-07-16T14:30","v":117.7},{"t":"2024-07-16T15:30","v":121.5},{"t":"2024-07-16T17:00","v":114.5},{"t":"2024-07-16T23:30","v":91.0},
{"t":"2024-07-17T06:30","v":74.5},{"t":"2024-07-17T14:30","v":119.2},{"t":"2024-07-17T15:30","v":123.1},{"t":"2024-07-17T17:00","v":115.8},{"t":"2024-07-17T23:30","v":91.5},
{"t":"2024-07-18T06:30","v":74.5},{"t":"2024-07-18T14:30","v":119.4},{"t":"2024-07-18T15:30","v":123.3},{"t":"2024-07-18T17:00","v":116.0},{"t":"2024-07-18T23:30","v":91.6},
{"t":"2024-07-19T06:30","v":74.5},{"t":"2024-07-19T14:30","v":119.8},{"t":"2024-07-19T15:30","v":123.7},{"t":"2024-07-19T17:00","v":116.3},{"t":"2024-07-19T23:30","v":91.7},
{"t":"2024-07-20T06:30","v":74.0},{"t":"2024-07-20T14:30","v":118.6},{"t":"2024-07-20T15:30","v":122.5},{"t":"2024-07-20T17:00","v":115.2},{"t":"2024-07-20T23:30","v":91.0},
{"t":"2024-07-21T06:30","v":74.0},{"t":"2024-07-21T14:30","v":119.4},{"t":"2024-07-21T15:30","v":123.3},{"t":"2024-07-21T17:00","v":115.9},{"t":"2024-07-21T23:30","v":91.3},
{"t":"2024-07-22T06:30","v":74.0},{"t":"2024-07-22T14:30","v":120.0},{"t":"2024-07-22T15:30","v":124.0},{"t":"2024-07-22T17:00","v":116.5},{"t":"2024-07-22T23:30","v":91.5},
{"t":"2024-07-23T06:30","v":74.0},{"t":"2024-07-23T14:30","v":120.5},{"t":"2024-07-23T15:30","v":124.5},{"t":"2024-07-23T17:00","v":116.9},{"t":"2024-07-23T23:30","v":91.7},
{"t":"2024-07-24T05:00","v":74.5},{"t":"2024-07-24T13:00","v":123.7},{"t":"2024-07-24T14:00","v":128.0},{"t":"2024-07-24T15:30","v":120.0},{"t":"2024-07-24T22:00","v":93.2},
{"t":"2024-07-25T05:00","v":74.5},{"t":"2024-07-25T13:00","v":124.3},{"t":"2024-07-25T14:00","v":128.6},{"t":"2024-07-25T15:30","v":120.5},{"t":"2024-07-25T22:00","v":93.4},
{"t":"2024-07-26T05:00","v":74.0},{"t":"2024-07-26T13:00","v":124.0},{"t":"2024-07-26T14:00","v":128.3},{"t":"2024-07-26T15:30","v":120.2},{"t":"2024-07-26T22:00","v":93.0},
{"t":"2024-07-27T05:00","v":74.0},{"t":"2024-07-27T13:00","v":122.5},{"t":"2024-07-27T14:00","v":126.7},{"t":"2024-07-27T15:30","v":118.8},{"t":"2024-07-27T22:00","v":92.4},
{"t":"2024-07-28T05:00","v":73.5},{"t":"2024-07-28T13:00","v":123.9},{"t":"2024-07-28T14:00","v":128.3},{"t":"2024-07-28T15:30","v":120.1},{"t":"2024-07-28T22:00","v":92.7},
{"t":"2024-07-29T05:00","v":73.5},{"t":"2024-07-29T13:00","v":124.8},{"t":"2024-07-29T14:00","v":129.3},{"t":"2024-07-29T15:30","v":120.9},{"t":"2024-07-29T22:00","v":93.0},
{"t":"2024-07-30T05:00","v":73.0},{"t":"2024-07-30T13:00","v":129.3},{"t":"2024-07-30T14:00","v":134.2},{"t":"2024-07-30T15:30","v":125.0},{"t":"2024-07-30T22:00","v":94.4},
{"t":"2024-07-31T05:00","v":73.0},{"t":"2024-07-31T13:00","v":130.9},{"t":"2024-07-31T14:00","v":135.9},{"t":"2024-07-31T15:30","v":126.5},{"t":"2024-07-31T22:00","v":95.0},
{"t":"2024-08-01T05:00","v":72.5},{"t":"2024-08-01T13:00","v":133.5},{"t":"2024-08-01T14:00","v":138.8},{"t":"2024-08-01T15:30","v":128.9},{"t":"2024-08-01T22:00","v":95.7},
{"t":"2024-08-02T05:00","v":72.0},{"t":"2024-08-02T13:00","v":138.8},{"t":"2024-08-02T14:00","v":144.6},{"t":"2024-08-02T15:30","v":133.7},{"t":"2024-08-02T22:00","v":97.4},
{"t":"2024-08-03T03:30","v":71.5},{"t":"2024-08-03T11:30","v":142.1},{"t":"2024-08-03T12:30","v":148.2},{"t":"2024-08-03T14:00","v":136.7},{"t":"2024-08-03T20:30","v":98.3},
{"t":"2024-08-04T03:30","v":70.5},{"t":"2024-08-04T11:30","v":141.0},{"t":"2024-08-04T12:30","v":147.1},{"t":"2024-08-04T14:00","v":135.6},{"t":"2024-08-04T20:30","v":97.3},
{"t":"2024-08-05T03:30","v":70.0},{"t":"2024-08-05T11:30","v":140.7},{"t":"2024-08-05T12:30","v":146.8},{"t":"2024-08-05T14:00","v":135.3},{"t":"2024-08-05T20:30","v":96.9},
{"t":"2024-08-06T03:30","v":71.0},{"t":"2024-08-06T11:30","v":140.6},{"t":"2024-08-06T12:30","v":146.6},{"t":"2024-08-06T14:00","v":135.3},{"t":"2024-08-06T20:30","v":97.5},
{"t":"2024-08-07T03:30","v":71.0},{"t":"2024-08-07T11:30","v":144.7},{"t":"2024-08-07T12:30","v":151.1},{"t":"2024-08-07T14:00","v":139.1},{"t":"2024-08-07T20:30","v":99.0},
{"t":"2024-08-08T03:30","v":71.0},{"t":"2024-08-08T11:30","v":144.6},{"t":"2024-08-08T12:30","v":151.0},{"t":"2024-08-08T14:00","v":139.0},{"t":"2024-08-08T20:30","v":99.0},
{"t":"2024-08-09T03:30","v":71.5},{"t":"2024-08-09T11:30","v":141.0},{"t":"2024-08-09T12:30","v":147.0},{"t":"2024-08-09T14:00","v":135.7},{"t":"2024-08-09T20:30","v":97.9},
{"t":"2024-08-10T03:30","v":72.5},{"t":"2024-08-10T11:30","v":139.2},{"t":"2024-08-10T12:30","v":145.0},{"t":"2024-08-10T14:00","v":134.1},{"t":"2024-08-10T20:30","v":97.9},
{"t":"2024-08-11T03:30","v":73.5},{"t":"2024-08-11T11:30","v":137.4},{"t":"2024-08-11T12:30","v":143.0},{"t":"2024-08-11T14:00","v":132.6},{"t":"2024-08-11T20:30","v":97.8},
{"t":"2024-08-12T03:30","v":74.0},{"t":"2024-08-12T11:30","v":134.5},{"t":"2024-08-12T12:30","v":139.8},{"t":"2024-08-12T14:00","v":129.9},{"t":"2024-08-12T20:30","v":97.0},
{"t":"2024-08-13T02:30","v":74.5},{"t":"2024-08-13T10:30","v":132.3},{"t":"2024-08-13T11:30","v":137.3},{"t":"2024-08-13T13:00","v":127.9},{"t":"2024-08-13T19:30","v":96.5},
{"t":"2024-08-14T02:30","v":75.0},{"t":"2024-08-14T10:30","v":133.1},{"t":"2024-08-14T11:30","v":138.1},{"t":"2024-08-14T13:00","v":128.6},{"t":"2024-08-14T19:30","v":97.1},
{"t":"2024-08-15T02:30","v":75.0},{"t":"2024-08-15T10:30","v":131.9},{"t":"2024-08-15T11:30","v":136.8},{"t":"2024-08-15T13:00","v":127.5},{"t":"2024-08-15T19:30","v":96.6},
{"t":"2024-08-16T02:30","v":75.0},{"t":"2024-08-16T10:30","v":130.8},{"t":"2024-08-16T11:30","v":135.7},{"t":"2024-08-16T13:00","v":126.6},{"t":"2024-08-16T19:30","v":96.2},
{"t":"2024-08-17T02:30","v":75.0},{"t":"2024-08-17T10:30","v":129.4},{"t":"2024-08-17T11:30","v":134.1},{"t":"2024-08-17T13:00","v":125.2},{"t":"2024-08-17T19:30","v":95.7},
{"t":"2024-08-18T02:30","v":75.0},{"t":"2024-08-18T10:30","v":127.0},{"t":"2024-08-18T11:30","v":131.5},{"t":"2024-08-18T13:00","v":123.0},{"t":"2024-08-18T19:30","v":94.8},
{"t":"2024-08-19T02:30","v":75.0},{"t":"2024-08-19T10:30","v":126.0},{"t":"2024-08-19T11:30","v":130.4},{"t":"2024-08-19T13:00","v":122.1},{"t":"2024-08-19T19:30","v":94.4},
{"t":"2024-08-20T02:30","v":75.0},{"t":"2024-08-20T10:30","v":126.6},{"t":"2024-08-20T11:30","v":131.1},{"t":"2024-08-20T13:00","v":122.7},{"t":"2024-08-20T19:30","v":94.6},
{"t":"2024-08-21T02:30","v":75.0},{"t":"2024-08-21T10:30","v":124.3},{"t":"2024-08-21T11:30","v":128.6},{"t":"2024-08-21T13:00","v":120.6},{"t":"2024-08-21T19:30","v":93.8},
{"t":"2024-08-22T02:30","v":75.0},{"t":"2024-08-22T10:30","v":122.6},{"t":"2024-08-22T11:30","v":126.7},{"t":"2024-08-22T13:00","v":118.9},{"t":"2024-08-22T17:00","v":100.0},{"t":"2024-08-22T20:50","v":85.6}
]
},
"encoding": {
"x": {"field": "t", "type": "temporal",
"scale": {"domain": [{"year": 2024, "month": 6, "date": 21, "hours": 17}, {"year": 2024, "month": 8, "date": 25, "hours": 19}]},
"axis": {"title": null, "format": "%m/%d/%y", "labelAngle": -90, "labelAlign": "right", "labelBaseline": "middle", "labelPadding": 6, "labelFontSize": 17.8, "labelFlush": false, "grid": true,
"values": [{"year": 2024, "month": 6, "date": 22}, {"year": 2024, "month": 7, "date": 1}, {"year": 2024, "month": 7, "date": 8}, {"year": 2024, "month": 7, "date": 15}, {"year": 2024, "month": 7, "date": 22}, {"year": 2024, "month": 8, "date": 1}, {"year": 2024, "month": 8, "date": 8}, {"year": 2024, "month": 8, "date": 15}, {"year": 2024, "month": 8, "date": 22}]}}
},
"layer": [
{
"encoding": {"y": {"field": "v", "type": "quantitative", "scale": {"domain": [2.36, 29], "nice": false, "zero": false},
"axis": {"title": "DO (mg/L) pH and Temperature C(°)", "values": [4, 9, 14, 19, 24, 29], "grid": true, "labelPadding": 19, "titlePadding": 12, "titleY": 234}}},
"layer": [
{"data": {"name": "do"}, "mark": {"type": "line", "strokeWidth": 2, "clip": true},
"encoding": {"color": {"datum": "DO", "scale": {"domain": ["DO", "pH", "Temperature", "DO Saturation"], "range": ["#0000FF", "#008000", "#FFA500", "#BFBF00"]}}}},
{"data": {"name": "ph"}, "mark": {"type": "line", "strokeWidth": 1.8, "interpolate": "monotone", "clip": true},
"encoding": {"color": {"datum": "pH"}}},
{"data": {"name": "temp"}, "mark": {"type": "line", "strokeWidth": 1.8, "interpolate": "monotone", "clip": true},
"encoding": {"color": {"datum": "Temperature"}}}
]
},
{"data": {"name": "sat"}, "mark": {"type": "line", "strokeWidth": 2, "interpolate": "monotone", "clip": true},
"encoding": {"y": {"field": "v", "type": "quantitative", "scale": {"domain": [50, 170], "nice": false, "zero": false},
"axis": {"orient": "right", "title": "DO % Saturation", "values": [50, 74, 98, 122, 146, 170], "grid": false, "labelPadding": 18, "titlePadding": 10, "titleFontSize": 15.6}},
"color": {"datum": "DO Saturation"}}}
],
"resolve": {"scale": {"y": "independent"}}
}
